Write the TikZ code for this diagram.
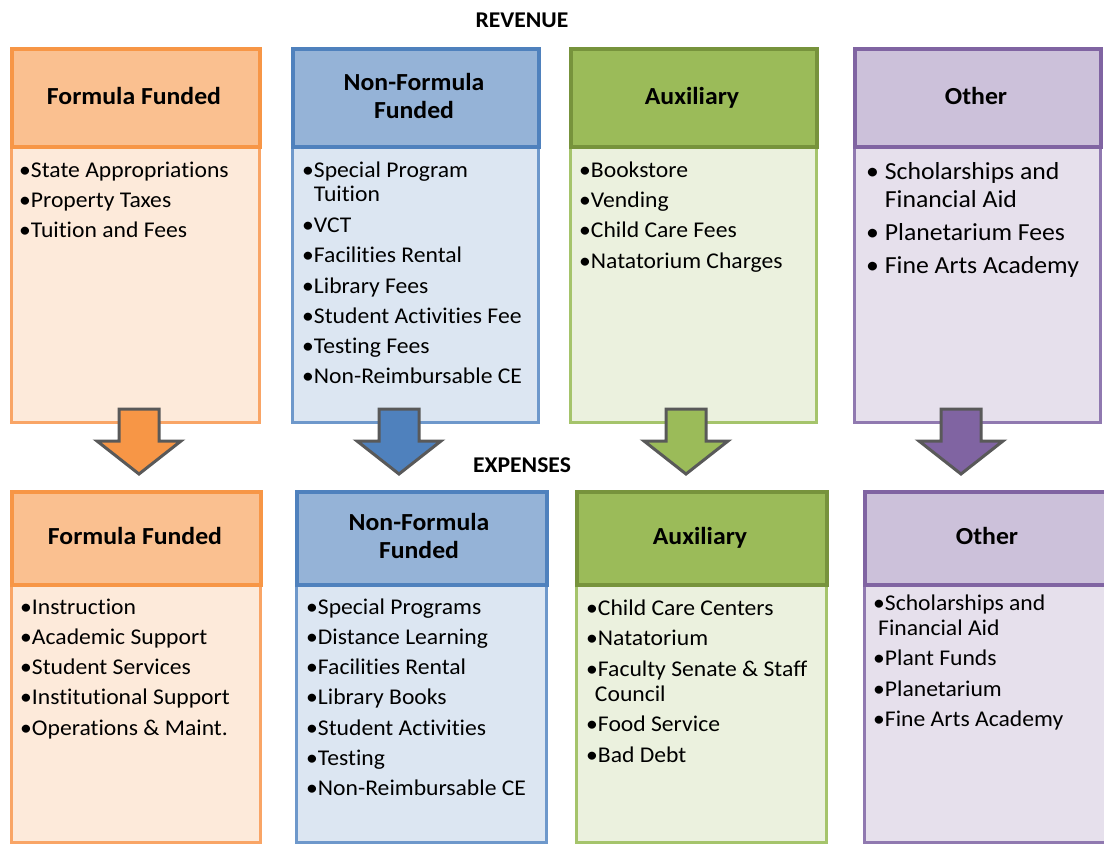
\documentclass[tikz,border=0pt]{standalone}
\usepackage{fontspec}
\setmainfont{Carlito}[FakeStretch=1.05, Ligatures={NoCommon,NoContextual}]
\definecolor{orHf}{HTML}{FAC090}
\definecolor{orHd}{HTML}{F79646}
\definecolor{orBf}{HTML}{FDEADA}
\definecolor{orBd}{HTML}{F9A566}
\definecolor{blHf}{HTML}{95B3D7}
\definecolor{blHd}{HTML}{4F81BD}
\definecolor{blBf}{HTML}{DCE6F2}
\definecolor{blBd}{HTML}{6E98CB}
\definecolor{grHf}{HTML}{9BBB59}
\definecolor{grHd}{HTML}{77933C}
\definecolor{grBf}{HTML}{EBF1DE}
\definecolor{grBd}{HTML}{A5C46B}
\definecolor{puHf}{HTML}{CCC1DA}
\definecolor{puHd}{HTML}{8064A2}
\definecolor{puBf}{HTML}{E6E0EC}
\definecolor{puBd}{HTML}{9079B0}
\definecolor{arGray}{HTML}{595959}
\definecolor{orA}{HTML}{F79646}
\definecolor{blA}{HTML}{4F81BD}
\definecolor{grA}{HTML}{9BBB59}
\definecolor{puA}{HTML}{8064A2}
\tikzset{
  hdrbox/.style={draw, line width=3.5pt, anchor=north west, inner sep=0pt},
  bodybox/.style={draw, line width=3pt, anchor=north west, inner sep=0pt},
  lst/.style={anchor=base west, inner sep=0pt, font=\fontsize{22.5}{26}\selectfont},
  lstbig/.style={anchor=base west, inner sep=0pt, font=\fontsize{24.5}{28}\selectfont},
  hdrtxt/.style={anchor=base, inner sep=0pt, font=\fontsize{24.5}{28}\selectfont\bfseries},
  ttl/.style={anchor=base, inner sep=0pt, font=\fontsize{22.5}{26}\selectfont\bfseries},
  blockarrow/.style={draw=arGray, line width=3pt, line join=miter},
}
\newcommand\blockarr[3]{%
  \draw[blockarrow, fill=#2] (#1) ++(-20,0) -- ++(40,0) -- ++(0,32) -- ++(22,0)
    -- ++(-42,33) -- ++(-42,-33) -- ++(22,0) -- cycle;}
\begin{document}
\begin{tikzpicture}[x=1pt,y=-1pt]
\useasboundingbox (0,0) rectangle (1104,844);
\clip (0,0) rectangle (1104,844);
\fill[white] (0,0) rectangle (1104,844);

% titles
\node[ttl] (revenue) at (522,27) {REVENUE};
\node[ttl] (expenses) at (522,472) {EXPENSES};

% ---------- top row ----------
\node[bodybox, draw=orBd, fill=orBf, minimum width=248pt, minimum height=276pt] (rffb) at (10,145) {};
\node[hdrbox, draw=orHd, fill=orHf, minimum width=248pt, minimum height=98pt] (rffh) at (10,47) {};
\node[bodybox, draw=blBd, fill=blBf, minimum width=246pt, minimum height=276pt] (rnfb) at (291,145) {};
\node[hdrbox, draw=blHd, fill=blHf, minimum width=246pt, minimum height=98pt] (rnfh) at (291,47) {};
\node[bodybox, draw=grBd, fill=grBf, minimum width=246pt, minimum height=276pt] (raxb) at (569,145) {};
\node[hdrbox, draw=grHd, fill=grHf, minimum width=246pt, minimum height=98pt] (raxh) at (569,47) {};
\node[bodybox, draw=puBd, fill=puBf, minimum width=246pt, minimum height=276pt] (rotb) at (853,145) {};
\node[hdrbox, draw=puHd, fill=puHf, minimum width=246pt, minimum height=98pt] (roth) at (853,47) {};

\node[hdrtxt] (rfft) at (134,104) {Formula Funded};
\node[hdrtxt] (rnft1) at (414,90) {Non-Formula};
\node[hdrtxt] (rnft2) at (414,118) {Funded};
\node[hdrtxt] (raxt) at (692,104) {Auxiliary};
\node[hdrtxt] (rott) at (976,104) {Other};

\node[lst] (a1) at (19,177) {•State Appropriations};
\node[lst] (a2) at (19,207.3) {•Property Taxes};
\node[lst] (a3) at (19,237.6) {•Tuition and Fees};

\node[lst] (b1) at (302,177) {•Special Program};
\node[lst] (b1w) at (302,201) {\phantom{•}Tuition};
\node[lst] (b2) at (302,232) {•VCT};
\node[lst] (b3) at (302,262.5) {•Facilities Rental};
\node[lst] (b4) at (302,293) {•Library Fees};
\node[lst] (b5) at (302,323) {•Student Activities Fee};
\node[lst] (b6) at (302,353) {•Testing Fees};
\node[lst] (b7) at (302,383) {•Non-Reimbursable CE};

\node[lst] (c1) at (579,177) {•Bookstore};
\node[lst] (c2) at (579,207.3) {•Vending};
\node[lst] (c3) at (579,237.6) {•Child Care Fees};
\node[lst] (c4) at (579,268) {•Natatorium Charges};

\node[lstbig] (d1) at (866,179) {• Scholarships and};
\node[lstbig] (d1w) at (866,207) {\phantom{• }Financial Aid};
\node[lstbig] (d2) at (866,240) {• Planetarium Fees};
\node[lstbig] (d3) at (866,273) {• Fine Arts Academy};

% ---------- bottom row ----------
\node[bodybox, draw=orBd, fill=orBf, minimum width=249pt, minimum height=258pt] (effb) at (10,583) {};
\node[hdrbox, draw=orHd, fill=orHf, minimum width=249pt, minimum height=93pt] (effh) at (10,490) {};
\node[bodybox, draw=blBd, fill=blBf, minimum width=250pt, minimum height=258pt] (enfb) at (295,583) {};
\node[hdrbox, draw=blHd, fill=blHf, minimum width=250pt, minimum height=93pt] (enfh) at (295,490) {};
\node[bodybox, draw=grBd, fill=grBf, minimum width=250pt, minimum height=258pt] (eaxb) at (575,583) {};
\node[hdrbox, draw=grHd, fill=grHf, minimum width=250pt, minimum height=93pt] (eaxh) at (575,490) {};
\node[bodybox, draw=puBd, fill=puBf, minimum width=250pt, minimum height=258pt] (eotb) at (863,583) {};
\node[hdrbox, draw=puHd, fill=puHf, minimum width=250pt, minimum height=93pt] (eoth) at (863,490) {};

\node[hdrtxt] (efft) at (135,544) {Formula Funded};
\node[hdrtxt] (enft1) at (419,530) {Non-Formula};
\node[hdrtxt] (enft2) at (419,558) {Funded};
\node[hdrtxt] (eaxt) at (700,544) {Auxiliary};
\node[hdrtxt] (eott) at (987,544) {Other};

\node[lst] (e1) at (20,614) {•Instruction};
\node[lst] (e2) at (20,644.3) {•Academic Support};
\node[lst] (e3) at (20,674.6) {•Student Services};
\node[lst] (e4) at (20,704.9) {•Institutional Support};
\node[lst] (e5) at (20,735.2) {•Operations \& Maint.};

\node[lst] (f1) at (306,614) {•Special Programs};
\node[lst] (f2) at (306,644.3) {•Distance Learning};
\node[lst] (f3) at (306,674.6) {•Facilities Rental};
\node[lst] (f4) at (306,704.9) {•Library Books};
\node[lst] (f5) at (306,735.2) {•Student Activities};
\node[lst] (f6) at (306,765.5) {•Testing};
\node[lst] (f7) at (306,795.8) {•Non-Reimbursable CE};

\node[lst] (g1) at (586,615) {•Child Care Centers};
\node[lst] (g2) at (586,645.5) {•Natatorium};
\node[lst] (g3) at (586,676) {•Faculty Senate \& Staff};
\node[lst] (g3w) at (583,701) {\phantom{•}Council};
\node[lst] (g4) at (586,731.5) {•Food Service};
\node[lst] (g5) at (586,762) {•Bad Debt};

\node[lst] (h1) at (873,610) {•Scholarships and};
\node[lst] (h1w) at (878,635) {Financial Aid};
\node[lst] (h2) at (873,665.5) {•Plant Funds};
\node[lst] (h3) at (873,696) {•Planetarium};
\node[lst] (h4) at (873,726.5) {•Fine Arts Academy};

% ---------- block arrows ----------
\coordinate (ar1) at (139,409);
\coordinate (ar2) at (399,409);
\coordinate (ar3) at (686,409);
\coordinate (ar4) at (961,409);
\blockarr{ar1}{orA}{}
\blockarr{ar2}{blA}{}
\blockarr{ar3}{grA}{}
\blockarr{ar4}{puA}{}
\end{tikzpicture}
\end{document}
